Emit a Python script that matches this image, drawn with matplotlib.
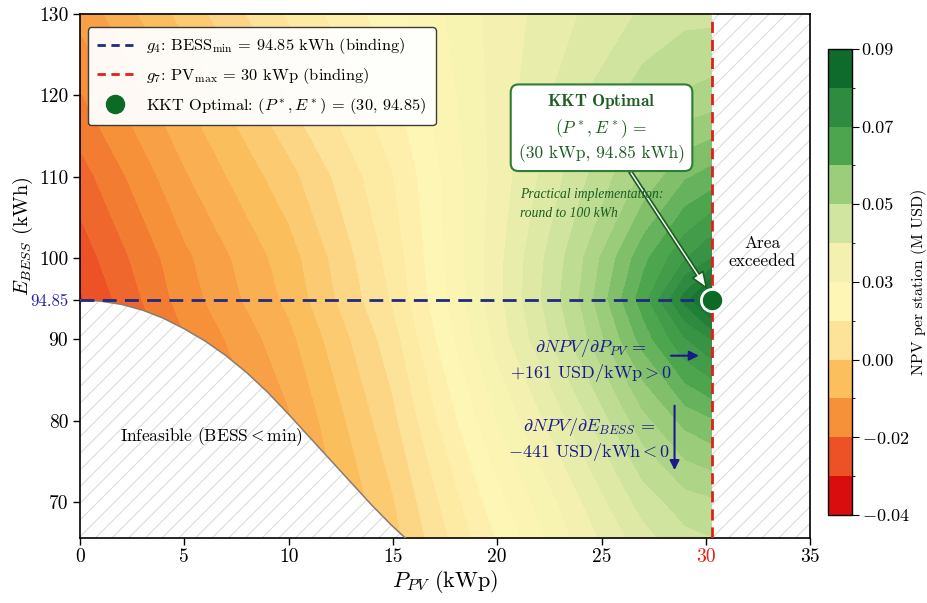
import numpy as np
import matplotlib
matplotlib.use("Agg")
import matplotlib.pyplot as plt
from matplotlib.colors import LinearSegmentedColormap, ListedColormap, BoundaryNorm, Normalize
from matplotlib.cm import ScalarMappable
from matplotlib.lines import Line2D

plt.rcParams['font.family'] = 'serif'
plt.rcParams['font.serif'] = ['cmr10']
plt.rcParams['mathtext.fontset'] = 'cm'
plt.rcParams['axes.formatter.use_mathtext'] = True
plt.rcParams['hatch.linewidth'] = 0.7

# ---- data ----
p_grid = [0, 5, 10, 15, 20, 24, 27, 29, 30.3]          # kWp
e_grid = [65.6, 70, 80, 90, 95, 100, 110, 120, 130]    # kWh
# NPV per station (M USD), one row per e_grid value
npv_e65 = [-0.035, -0.021, -0.011, 0.002, 0.018, 0.030, 0.038, 0.042, 0.043]
npv_e70 = [-0.034, -0.020, -0.010, 0.003, 0.020, 0.032, 0.041, 0.045, 0.046]
npv_e80 = [-0.031, -0.018, -0.008, 0.006, 0.025, 0.038, 0.049, 0.055, 0.057]
npv_e90 = [-0.028, -0.015, -0.005, 0.009, 0.030, 0.045, 0.059, 0.068, 0.072]
npv_e95 = [-0.026, -0.013, -0.003, 0.011, 0.031, 0.047, 0.063, 0.077, 0.087]
npv_e100 = [-0.024, -0.012, -0.002, 0.012, 0.031, 0.046, 0.060, 0.068, 0.072]
npv_e110 = [-0.020, -0.008, 0.002, 0.014, 0.030, 0.042, 0.051, 0.057, 0.059]
npv_e120 = [-0.015, -0.004, 0.007, 0.017, 0.030, 0.039, 0.045, 0.047, 0.048]
npv_e130 = [-0.010, 0.001, 0.011, 0.020, 0.030, 0.036, 0.040, 0.042, 0.042]

# infeasible boundary (BESS < min)
bound_p = [0, 1, 2, 3, 4, 5, 6, 7, 8, 9, 10, 11, 12, 13, 14, 15, 15.6]
bound_e = [94.85, 94.7, 94.3, 93.6, 92.6, 91.3, 89.8, 88.0, 85.9, 83.5, 80.8,
           78.0, 75.2, 72.4, 69.6, 67.0, 65.6]

pv_max = 30.3
bess_min = 94.85

cbar_colors = ['#d90d0d', '#ec5225', '#f6913a', '#fbbf5e', '#fde39a', '#fef6b4',
               '#f4f1b0', '#d2e5a0', '#9ccd7b', '#4da54e', '#2e8b3f', '#0e6b2c']
cbar_bounds = np.linspace(-0.04, 0.09, 13)
cbar_tick_labels = ['$-$0.04', '$-$0.02', '0.00', '0.03', '0.05', '0.07', '0.09']

x_ticks = [0, 5, 10, 15, 20, 25, 30, 35]
y_ticks = [70, 80, 90, bess_min, 100, 110, 120, 130]

navy = '#1a1a8c'
dkgreen = '#1b5e20'
red = '#e0201b'

# ---- figure ----
fig = plt.figure(figsize=(9.28, 6.03), dpi=100)
ax = fig.add_axes([0.0862, 0.1078, 0.7868, 0.8692])
cax = fig.add_axes([0.892, 0.146, 0.026, 0.773])

npv = np.array([npv_e65, npv_e70, npv_e80, npv_e90, npv_e95,
                npv_e100, npv_e110, npv_e120, npv_e130])
anchors = [(0.0, cbar_colors[0])] + [((i + 0.5) / 12, c) for i, c in enumerate(cbar_colors)] \
    + [(1.0, cbar_colors[-1])]
cmap_cont = LinearSegmentedColormap.from_list('npv', anchors)
ax.contourf(p_grid, e_grid, npv, levels=np.linspace(-0.04, 0.09, 37),
            cmap=cmap_cont, norm=Normalize(-0.04, 0.09), zorder=0)

ylo = e_grid[0]
# infeasible region
ax.fill_between(bound_p, bound_e, ylo, facecolor='white', hatch='//',
                edgecolor='#d8d8d8', linewidth=0, zorder=2)
ax.plot(bound_p, bound_e, color='#8a7d70', lw=1.1, zorder=3)
# area exceeded region
ax.fill_between([pv_max, 35], ylo, 130, facecolor='white', hatch='//',
                edgecolor='#d8d8d8', linewidth=0, zorder=2)

# constraint lines
ax.plot([0, pv_max], [bess_min, bess_min], color='#1f2a80', lw=2, ls=(0, (5, 3)), zorder=4)
ax.axvline(pv_max, color=red, lw=2, ls=(0, (4, 2.5)), zorder=4)
ax.plot([pv_max], [bess_min], 'o', ms=16, mfc='#0b6a23', mec='white', mew=2, zorder=6)

# annotations
ax.annotate('$\\mathbf{KKT\\ Optimal}$\n$(P^*, E^*)$ =\n(30 kWp, 94.85 kWh)',
            xy=(pv_max - 0.2, bess_min + 1.2), xytext=(25.0, 116.0),
            ha='center', va='center', fontsize=12.5, color=dkgreen, zorder=7,
            linespacing=1.35,
            bbox=dict(boxstyle='round,pad=0.45', fc='white', ec='#2e7d32', lw=1.5),
            arrowprops=dict(arrowstyle='simple,head_width=0.7,head_length=0.9,tail_width=0.18',
                            fc='white', ec=dkgreen, lw=1.2, shrinkA=0, shrinkB=2))
ax.text(21.1, 106.6, 'Practical implementation:\nround to 100 kWh', fontsize=9.8,
        family='Liberation Serif', style='italic', color=dkgreen, ha='left', va='center',
        linespacing=1.6, zorder=7)

ax.text(24.5, 87.4, '$\\partial NPV/\\partial P_{PV}$ =\n+161 USD/kWp$>$0', fontsize=13,
        color=navy, ha='center', va='center', zorder=7)
ax.text(24.4, 77.7, '$\\partial NPV/\\partial E_{BESS}$ =\n$-$441 USD/kWh$<$0', fontsize=13,
        color=navy, ha='center', va='center', zorder=7)
ax.annotate('', xy=(29.8, 88.0), xytext=(28.2, 88.0),
            arrowprops=dict(arrowstyle='-|>', color=navy, lw=1.5, mutation_scale=14), zorder=7)
ax.annotate('', xy=(28.5, 73.6), xytext=(28.5, 82.2),
            arrowprops=dict(arrowstyle='-|>', color=navy, lw=1.5, mutation_scale=14), zorder=7)

ax.text(6.3, 78.1, 'Infeasible (BESS$<$min)', fontsize=12.5, ha='center', va='center', zorder=7)
ax.text(32.7, 100.7, 'Area\nexceeded', fontsize=12.5, ha='center', va='center', zorder=7)

# axes
ax.set_xlim(0, 35)
ax.set_ylim(ylo, 130)
ax.set_xticks(x_ticks)
ax.set_xticklabels([str(t) for t in x_ticks], fontsize=14)
ax.set_yticks(y_ticks)
ax.set_yticklabels([('%.2f' % t) if t == bess_min else str(int(t)) for t in y_ticks], fontsize=14)
for lab, t in zip(ax.get_xticklabels(), x_ticks):
    if t == 30:
        lab.set_color(red)
for lab, t in zip(ax.get_yticklabels(), y_ticks):
    if t == bess_min:
        lab.set_color('#2222aa')
        lab.set_fontsize(12)
ax.tick_params(direction='out', length=5, width=1)
ax.tick_params(axis='x', pad=2)
for s in ax.spines.values():
    s.set_linewidth(1.2)
ax.set_xlabel('$P_{PV}$ (kWp)', fontsize=16, labelpad=2)
ax.set_ylabel('$E_{BESS}$ (kWh)', fontsize=14.5)
ax.yaxis.set_label_coords(-0.062, 0.575)

handles = [Line2D([], [], color='#1f2a80', lw=2, ls=(0, (3, 2))),
           Line2D([], [], color=red, lw=2, ls=(0, (3, 2))),
           Line2D([], [], ls='none', marker='o', ms=13, mfc='#0b6a23', mec='#0b6a23')]
labels = ['$g_4$: BESS$_{\\rm min}$ = 94.85 kWh (binding)',
          '$g_7$: PV$_{\\rm max}$ = 30 kWp (binding)',
          'KKT Optimal: $(P^*, E^*)$ = (30, 94.85)']
leg = ax.legend(handles, labels, loc='upper left', fontsize=11.8, frameon=True, fancybox=True,
                framealpha=0.95, edgecolor='#333333', borderpad=0.55, handlelength=2.2,
                labelspacing=0.6, bbox_to_anchor=(0.0, 0.99))
leg.set_zorder(10)

# colorbar
sm = ScalarMappable(norm=BoundaryNorm(cbar_bounds, 12), cmap=ListedColormap(cbar_colors))
cb = fig.colorbar(sm, cax=cax, ticks=cbar_bounds[::2])
cb.set_ticklabels(cbar_tick_labels)
cb.ax.tick_params(labelsize=13, length=5, pad=2)
cb.set_label('NPV per station (M USD)', fontsize=11.5, labelpad=1)
cb.outline.set_linewidth(1.0)

fig.savefig('out.png', dpi=100, facecolor='white')
